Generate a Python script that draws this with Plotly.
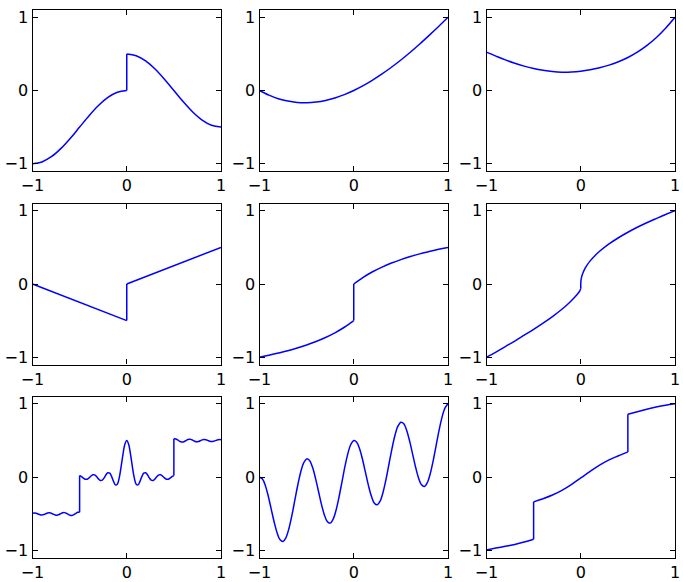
import plotly.graph_objects as go

# ---------------- data ----------------
TICK_VALS = [-1, 0, 1]
TICK_TEXT = ["\u22121", "0", "1"]

# Panel 1 (row 1, col 1)
P1_LX = [-1.0, -0.9, -0.8, -0.7, -0.6, -0.5, -0.4, -0.3, -0.2, -0.1, 0.0]
P1_LY = [-1.0, -0.976, -0.905, -0.794, -0.655, -0.5, -0.345, -0.206, -0.095, -0.024, 0.0]
P1_RX = [0.0, 0.1, 0.2, 0.3, 0.4, 0.5, 0.6, 0.7, 0.8, 0.9, 1.0]
P1_RY = [0.5, 0.476, 0.405, 0.294, 0.155, 0.0, -0.155, -0.294, -0.405, -0.476, -0.5]

# Panel 2 (row 1, col 2)
P2_X = [-1.0, -0.9, -0.8, -0.7, -0.6, -0.5, -0.4, -0.3, -0.2, -0.1, 0.0,
        0.1, 0.2, 0.3, 0.4, 0.5, 0.6, 0.7, 0.8, 0.9, 1.0]
P2_Y = [0.0, -0.064, -0.113, -0.145, -0.163, -0.167, -0.158, -0.136, -0.102, -0.056, 0.0,
        0.066, 0.142, 0.226, 0.318, 0.417, 0.523, 0.635, 0.753, 0.874, 1.0]

# Panel 3 (row 1, col 3)
P3_X = [-1.0, -0.9, -0.8, -0.7, -0.6, -0.5, -0.4, -0.3, -0.2, -0.1, 0.0,
        0.1, 0.2, 0.3, 0.4, 0.5, 0.6, 0.7, 0.8, 0.9, 1.0]
P3_Y = [0.525, 0.47, 0.418, 0.372, 0.333, 0.301, 0.276, 0.258, 0.25, 0.252, 0.263,
        0.283, 0.311, 0.347, 0.393, 0.451, 0.524, 0.613, 0.721, 0.851, 1.0]

# Panel 4 (row 2, col 1)
P4_LX = [-1.0, 0.0]
P4_LY = [0.0, -0.5]
P4_RX = [0.0, 1.0]
P4_RY = [0.0, 0.5]

# Panel 5 (row 2, col 2)
P5_LX = [-1.0, -0.9, -0.8, -0.7, -0.6, -0.5, -0.4, -0.3, -0.2, -0.1, 0.0]
P5_LY = [-1.0, -0.974, -0.944, -0.912, -0.875, -0.833, -0.786, -0.731, -0.667, -0.591, -0.5]
P5_RX = [0.0, 0.1, 0.2, 0.3, 0.4, 0.5, 0.6, 0.7, 0.8, 0.9, 1.0]
P5_RY = [0.0, 0.091, 0.167, 0.231, 0.286, 0.333, 0.375, 0.412, 0.444, 0.474, 0.5]

# Panel 6 (row 2, col 3)
P6_LX = [-1.0, -0.9, -0.8, -0.7, -0.6, -0.5, -0.4, -0.3, -0.2, -0.15, -0.1, -0.06, -0.03, -0.01, 0.0]
P6_LY = [-1.0, -0.93, -0.855, -0.78, -0.70, -0.62, -0.535, -0.445, -0.345, -0.29, -0.23, -0.175, -0.13, -0.095, -0.06]
P6_RX = [0.0, 0.0025, 0.01, 0.02, 0.04, 0.07, 0.1, 0.15, 0.2, 0.3, 0.4, 0.5, 0.6, 0.7, 0.8, 0.9, 1.0]
P6_RY = [0.0, 0.05, 0.1, 0.141, 0.2, 0.265, 0.316, 0.387, 0.447, 0.548, 0.632, 0.707, 0.775, 0.837, 0.894, 0.949, 1.0]

# Panel 7 (row 3, col 1)
P7_AX = [-1.0, -0.98, -0.96, -0.94, -0.92, -0.9, -0.88, -0.86, -0.84, -0.82, -0.8, -0.78, -0.76,
         -0.74, -0.72, -0.7, -0.68, -0.66, -0.64, -0.62, -0.6, -0.58, -0.56, -0.54, -0.52, -0.5]
P7_AY = [-0.4907, -0.4873, -0.4916, -0.5013, -0.5106, -0.5138, -0.5085, -0.4977, -0.4878, -0.4850,
         -0.4914, -0.5034, -0.5140, -0.5164, -0.5087, -0.4952, -0.4838, -0.4819, -0.4912, -0.5066,
         -0.5189, -0.5202, -0.5089, -0.4912, -0.4777, -0.4772]
P7_BX = [-0.5, -0.48, -0.46, -0.44, -0.42, -0.4, -0.38, -0.36, -0.34, -0.32, -0.3, -0.28, -0.26,
         -0.24, -0.22, -0.2, -0.18, -0.16, -0.14, -0.12, -0.1, -0.08, -0.06, -0.04, -0.02, 0.0,
         0.02, 0.04, 0.06, 0.08, 0.1, 0.12, 0.14, 0.16, 0.18, 0.2, 0.22, 0.24, 0.26, 0.28, 0.3,
         0.32, 0.34, 0.36, 0.38, 0.4, 0.42, 0.44, 0.46, 0.48, 0.5]
P7_BY = [0.0228, 0.0089, -0.0118, -0.0270, -0.0264, -0.0090, 0.0160, 0.0335, 0.0316, 0.0090,
         -0.0224, -0.0438, -0.0398, -0.0091, 0.0332, 0.0618, 0.0551, 0.0091, -0.0564, -0.1038,
         -0.0946, -0.0091, 0.1407, 0.3124, 0.4484, 0.5,
         0.4484, 0.3124, 0.1407, -0.0091, -0.0946, -0.1038, -0.0564, 0.0091, 0.0551, 0.0618,
         0.0332, -0.0091, -0.0398, -0.0438, -0.0224, 0.0090, 0.0316, 0.0335, 0.0160, -0.0090,
         -0.0264, -0.0270, -0.0118, 0.0089, 0.0228]
P7_CX = [0.5, 0.52, 0.54, 0.56, 0.58, 0.6, 0.62, 0.64, 0.66, 0.68, 0.7, 0.72, 0.74, 0.76, 0.78,
         0.8, 0.82, 0.84, 0.86, 0.88, 0.9, 0.92, 0.94, 0.96, 0.98, 1.0]
P7_CY = [0.5228, 0.5223, 0.5088, 0.4911, 0.4798, 0.4811, 0.4934, 0.5088, 0.5181, 0.5162, 0.5048,
         0.4913, 0.4836, 0.4860, 0.4966, 0.5086, 0.5150, 0.5122, 0.5023, 0.4915, 0.4862, 0.4894,
         0.4987, 0.5084, 0.5127, 0.5093]

# Panel 8 (row 3, col 2)
P8_X = [-1.0, -0.96875, -0.9375, -0.90625, -0.875, -0.84375, -0.8125, -0.78125,
        -0.75, -0.71875, -0.6875, -0.65625, -0.625, -0.59375, -0.5625, -0.53125,
        -0.5, -0.46875, -0.4375, -0.40625, -0.375, -0.34375, -0.3125, -0.28125,
        -0.25, -0.21875, -0.1875, -0.15625, -0.125, -0.09375, -0.0625, -0.03125,
        0.0, 0.03125, 0.0625, 0.09375, 0.125, 0.15625, 0.1875, 0.21875,
        0.25, 0.28125, 0.3125, 0.34375, 0.375, 0.40625, 0.4375, 0.46875,
        0.5, 0.53125, 0.5625, 0.59375, 0.625, 0.65625, 0.6875, 0.71875,
        0.75, 0.78125, 0.8125, 0.84375, 0.875, 0.90625, 0.9375, 0.96875, 1.0]
P8_Y = [0.0, -0.0224, -0.1152, -0.2618, -0.4375, -0.6132, -0.7598, -0.8526,
        -0.875, -0.8213, -0.6973, -0.5195, -0.3125, -0.1055, 0.0723, 0.1963,
        0.25, 0.2276, 0.1348, -0.0118, -0.1875, -0.3632, -0.5098, -0.6026,
        -0.625, -0.5713, -0.4473, -0.2695, -0.0625, 0.1445, 0.3223, 0.4463,
        0.5, 0.4776, 0.3848, 0.2382, 0.0625, -0.1132, -0.2598, -0.3526,
        -0.375, -0.3213, -0.1973, -0.0195, 0.1875, 0.3945, 0.5723, 0.6963,
        0.75, 0.7276, 0.6348, 0.4882, 0.3125, 0.1368, -0.0098, -0.1026,
        -0.125, -0.0713, 0.0527, 0.2305, 0.4375, 0.6445, 0.8223, 0.9463, 1.0]

# Panel 9 (row 3, col 3)
P9_AX = [-1.0, -0.9, -0.8, -0.7, -0.6, -0.5]
P9_AY = [-0.99, -0.965, -0.94, -0.915, -0.883, -0.845]
P9_BX = [-0.5, -0.4, -0.3, -0.2, -0.1, 0.0, 0.1, 0.2, 0.3, 0.4, 0.5]
P9_BY = [-0.335, -0.292, -0.242, -0.178, -0.1, -0.01, 0.08, 0.165, 0.237, 0.292, 0.345]
P9_CX = [0.5, 0.6, 0.7, 0.8, 0.9, 1.0]
P9_CY = [0.857, 0.892, 0.926, 0.956, 0.981, 1.0]

PANELS = [
    [(P1_LX, P1_LY), (P1_RX, P1_RY)],
    [(P2_X, P2_Y)],
    [(P3_X, P3_Y)],
    [(P4_LX, P4_LY), (P4_RX, P4_RY)],
    [(P5_LX, P5_LY), (P5_RX, P5_RY)],
    [(P6_LX, P6_LY), (P6_RX, P6_RY)],
    [(P7_AX, P7_AY), (P7_BX, P7_BY), (P7_CX, P7_CY)],
    [(P8_X, P8_Y)],
    [(P9_AX, P9_AY), (P9_BX, P9_BY), (P9_CX, P9_CY)],
]

# ---------------- layout ----------------
W, H = 683, 582
COL_PX = [(32.5, 221.0), (259.5, 448.0), (486.5, 675.0)]
ROW_PX = [(10.0, 171.0), (203.5, 364.5), (396.5, 558.0)]
LINE_COLOR = "#0000ff"
FONT = dict(family="DejaVu Sans", size=16, color="black")

fig = go.Figure()
layout = dict(
    width=W, height=H,
    margin=dict(l=0, r=0, t=0, b=0, autoexpand=False),
    paper_bgcolor="white", plot_bgcolor="white",
    showlegend=False,
)

for i, pieces in enumerate(PANELS):
    r, c = divmod(i, 3)
    n = "" if i == 0 else str(i + 1)
    xa, ya = "x" + n, "y" + n
    x0, x1 = COL_PX[c]
    y0, y1 = ROW_PX[r]
    axis_common = dict(
        showgrid=False, zeroline=False, showline=True, linecolor="black", linewidth=1.2,
        mirror="allticks", ticks="inside", ticklen=5, tickwidth=1, tickcolor="black",
        tickvals=TICK_VALS, ticktext=TICK_TEXT, tickfont=FONT, automargin=False,
    )
    layout["xaxis" + n] = dict(axis_common, domain=[x0 / W, x1 / W], range=[-1, 1],
                               anchor=ya)
    layout["yaxis" + n] = dict(axis_common, domain=[1 - y1 / H, 1 - y0 / H], range=[-1.1, 1.1],
                               anchor=xa)
    # smooth pieces
    for px, py in pieces:
        fig.add_trace(go.Scatter(x=px, y=py, mode="lines", xaxis=xa, yaxis=ya,
                                 line=dict(color=LINE_COLOR, width=1.5, shape="spline"),
                                 hoverinfo="skip"))
    # vertical jumps between consecutive pieces
    for (ax_, ay_), (bx_, by_) in zip(pieces[:-1], pieces[1:]):
        fig.add_trace(go.Scatter(x=[ax_[-1], bx_[0]], y=[ay_[-1], by_[0]], mode="lines",
                                 xaxis=xa, yaxis=ya,
                                 line=dict(color=LINE_COLOR, width=1.5),
                                 hoverinfo="skip"))

fig.update_layout(**layout)
fig.write_html(
    "out.html",
    config={"displayModeBar": False},
    post_script="document.body.style.margin='0px';document.body.style.overflow='hidden';",
)
